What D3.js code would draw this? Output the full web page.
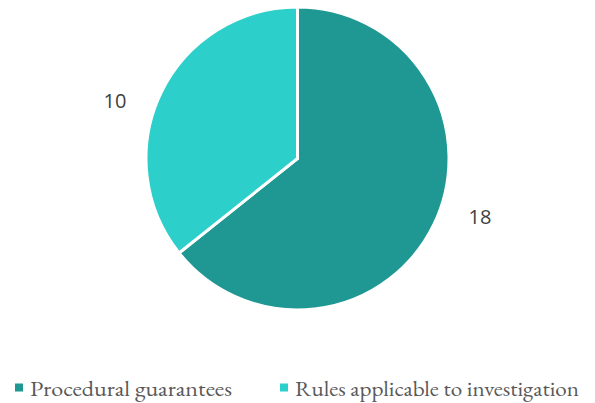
<!DOCTYPE html>
<html>
<head>
<meta charset="utf-8">
<script src="https://cdn.jsdelivr.net/npm/d3@7"></script>
<style>
  html, body { margin: 0; padding: 0; background: #fff; }
  svg { display: block; }
</style>
</head>
<body>
<svg id="chart" width="595" height="403"></svg>
<script>
// Number of items in each category
const categories = ["Procedural guarantees", "Rules applicable to investigation"];
const counts = [18, 10];
const colors = ["#1f9793", "#2dcfcb"];

const svg = d3.select("#chart");
const cx = 297.5, cy = 158.5, r = 151.5;

const pie = d3.pie().sort(null).value(d => d)(counts);
const arc = d3.arc().innerRadius(0).outerRadius(r);

const g = svg.append("g").attr("transform", `translate(${cx},${cy})`);

g.selectAll("path.slice")
  .data(pie)
  .join("path")
  .attr("class", "slice")
  .attr("d", arc)
  .attr("fill", (d, i) => colors[i])
  .attr("stroke", "#fff")
  .attr("stroke-width", 3)
  .attr("stroke-linejoin", "miter");

// Value labels placed outside the pie, nudged slightly counter-clockwise
const labelR = r * 1.265;
const shift = -8 * Math.PI / 180;
function labelPos(d) {
  const a = (d.startAngle + d.endAngle) / 2 + shift;
  return [Math.sin(a) * labelR, -Math.cos(a) * labelR];
}
g.selectAll("text.value")
  .data(pie)
  .join("text")
  .attr("class", "value")
  .attr("x", d => labelPos(d)[0])
  .attr("y", d => labelPos(d)[1])
  .attr("text-anchor", "middle")
  .attr("dominant-baseline", "central")
  .attr("font-family", "'Open Sans', 'DejaVu Sans', sans-serif")
  .attr("font-size", 20)
  .attr("fill", "#404040")
  .text(d => d.data);

// Legend
const legendX = [15, 280];
const legendW = [202, 284];
const legend = svg.append("g").selectAll("g")
  .data(categories)
  .join("g")
  .attr("transform", (d, i) => `translate(${legendX[i]},388)`);

legend.append("rect")
  .attr("x", 0).attr("y", -4.5)
  .attr("width", 8).attr("height", 8)
  .attr("fill", (d, i) => colors[i]);

legend.append("text")
  .attr("x", 15)
  .attr("y", 0)
  .attr("dominant-baseline", "central")
  .attr("font-family", "'EB Garamond', Garamond, 'Liberation Serif', serif")
  .attr("font-size", 21)
  .attr("textLength", (d, i) => legendW[i])
  .attr("lengthAdjust", "spacingAndGlyphs")
  .attr("fill", "#595959")
  .text(d => d);
</script>
</body>
</html>
